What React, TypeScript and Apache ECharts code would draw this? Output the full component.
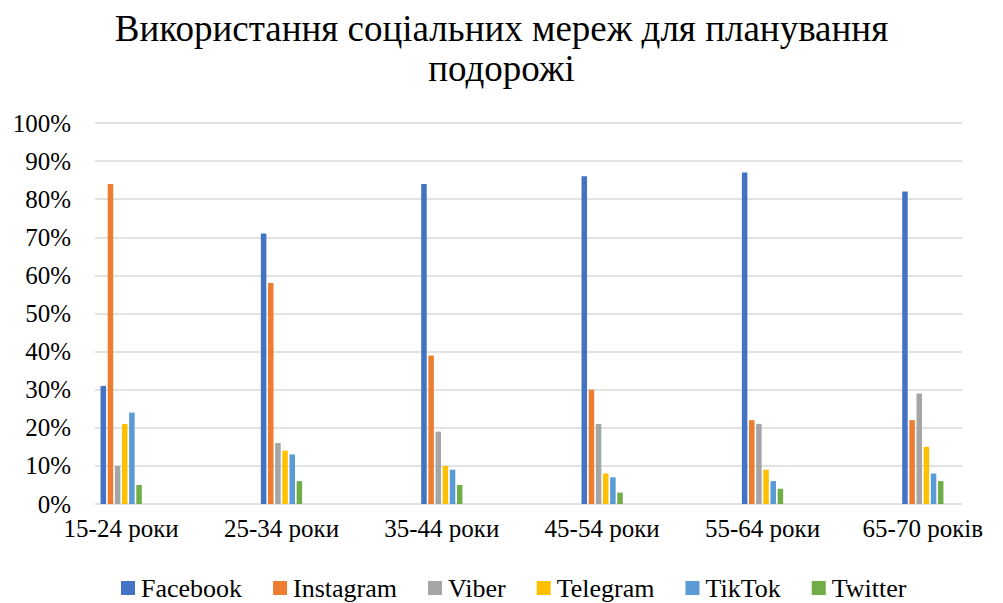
import React, { useEffect, useRef } from "react";
import * as echarts from "echarts";

const title = "Використання соціальних мереж для планування\nподорожі";
const categories = ["15-24 роки", "25-34 роки", "35-44 роки", "45-54 роки", "55-64 роки", "65-70 років"];
const seriesNames = ["Facebook", "Instagram", "Viber", "Telegram", "TikTok", "Twitter"];
const facebook = [31, 71, 84, 86, 87, 82];
const instagram = [84, 58, 39, 30, 22, 22];
const viber = [10, 16, 19, 21, 21, 29];
const telegram = [21, 14, 10, 8, 9, 15];
const tiktok = [24, 13, 9, 7, 6, 8];
const twitter = [5, 6, 5, 3, 4, 6];
const seriesValues = [facebook, instagram, viber, telegram, tiktok, twitter];
const colors = ["#4472C4", "#ED7D31", "#A5A5A5", "#FFC000", "#5B9BD5", "#70AD47"];
const yTicks = { min: 0, max: 100, interval: 10 };

const FONT = "Liberation Serif";

export default function App() {
  const ref = useRef<HTMLDivElement>(null);
  useEffect(() => {
    if (!ref.current) return;
    const chart = echarts.init(ref.current, undefined, { renderer: "svg" });
    const top = 123;
    const bottom = 99;
    chart.setOption({
      animation: false,
      backgroundColor: "#ffffff",
      color: colors,
      textStyle: { fontFamily: FONT },
      title: {
        text: title,
        left: "center",
        top: 3,
        textStyle: {
          fontFamily: FONT,
          fontSize: 37,
          fontWeight: "normal",
          color: "#000",
          lineHeight: 40,
        },
      },
      legend: {
        data: seriesNames,
        left: 116,
        top: 570,
        itemWidth: 14,
        itemHeight: 14,
        itemGap: 31,
        icon: "rect",
        textStyle: { fontFamily: FONT, fontSize: 26, color: "#000", padding: [0, 0, 0, 1] },
      },
      grid: [
        { left: 41, width: 976, top, bottom, containLabel: false },
        { left: 95, right: 41, top, bottom, containLabel: false },
      ],
      xAxis: [
        {
          type: "category",
          gridIndex: 0,
          data: categories,
          boundaryGap: true,
          axisLine: { show: false },
          axisTick: { show: false },
          axisLabel: {
            interval: 0,
            margin: 12,
            fontFamily: FONT,
            fontSize: 25,
            color: "#000",
          },
        },
        { type: "value", gridIndex: 1, show: false },
      ],
      yAxis: [
        {
          type: "value",
          gridIndex: 0,
          min: yTicks.min,
          max: yTicks.max,
          interval: yTicks.interval,
          show: false,
        },
        {
          type: "value",
          gridIndex: 1,
          min: yTicks.min,
          max: yTicks.max,
          interval: yTicks.interval,
          axisLine: { show: false },
          axisTick: { show: false },
          splitLine: { show: true, lineStyle: { color: "#d9d9d9", width: 1.5 } },
          axisLabel: {
            formatter: "{value}%",
            margin: 24,
            fontFamily: FONT,
            fontSize: 25,
            color: "#000",
          },
        },
      ],
      series: seriesNames.map((name, i) => ({
        name,
        type: "bar",
        xAxisIndex: 0,
        yAxisIndex: 0,
        data: seriesValues[i],
        barWidth: 5.5,
        barGap: "30%",
        itemStyle: { color: colors[i] },
      })),
    });
    return () => chart.dispose();
  }, []);
  return (
    <div
      ref={ref}
      style={{ position: "absolute", left: 0, top: 0, width: 1003, height: 603 }}
    />
  );
}
